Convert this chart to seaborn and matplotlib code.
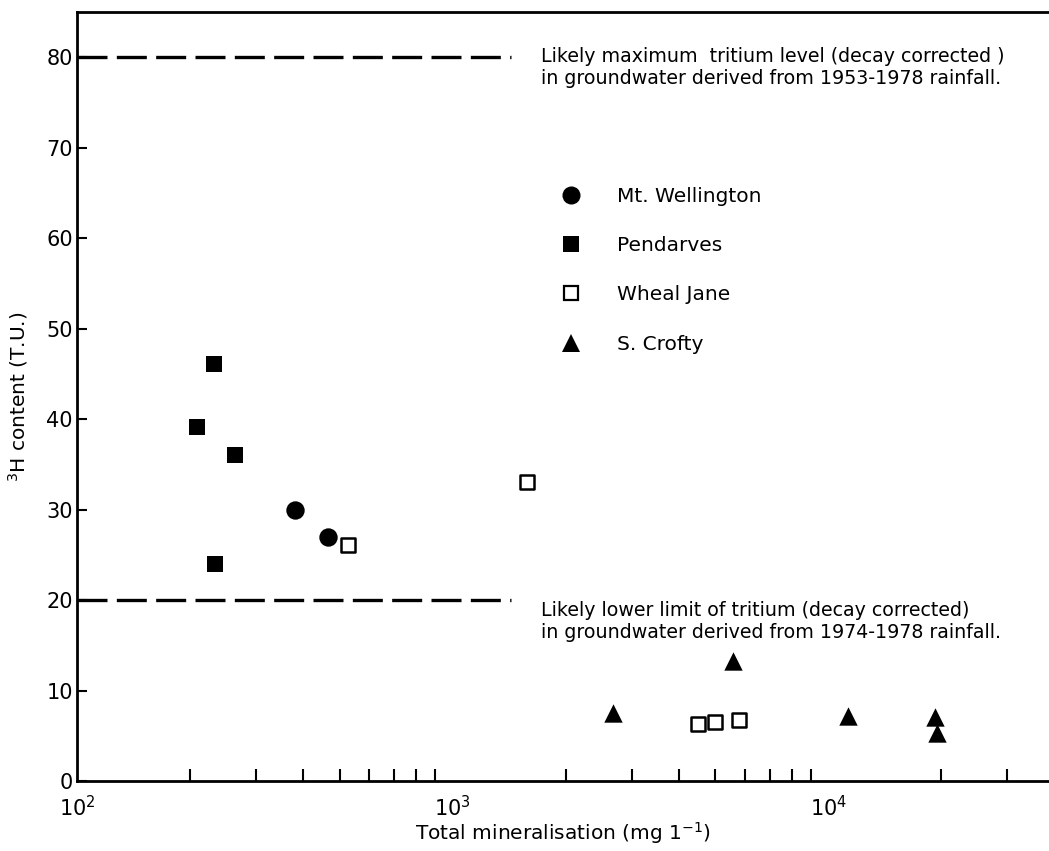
import numpy as np
import pandas as pd
import matplotlib
matplotlib.use("Agg")
import matplotlib.pyplot as plt
import seaborn as sns
from matplotlib.lines import Line2D
from matplotlib.ticker import LogLocator, NullFormatter, FixedLocator

# ---------------- data ----------------
sites = ["Mt. Wellington", "Pendarves", "Wheal Jane", "S. Crofty"]

wellington_x = [381, 467]
wellington_y = [30.0, 27.0]

pendarves_x = [209, 231, 264, 233]
pendarves_y = [39.1, 46.1, 36.0, 24.0]

whealjane_x = [528, 1580, 4500, 5000, 5800]
whealjane_y = [26.1, 33.0, 6.3, 6.5, 6.7]

crofty_x = [2670, 5580, 11300, 19200, 19500]
crofty_y = [7.5, 13.3, 7.2, 7.1, 5.3]

limit_levels = [80, 20]
limit_x = [100, 1430]
limit_texts = [
    "Likely maximum  tritium level (decay corrected )\nin groundwater derived from 1953-1978 rainfall.",
    "Likely lower limit of tritium (decay corrected)\nin groundwater derived from 1974-1978 rainfall.",
]
limit_text_y = [78.9, 17.6]

y_ticks = [0, 10, 20, 30, 40, 50, 60, 70, 80]
x_major = [100, 1000, 10000]
x_major_labels = [r"$10^2$", r"$10^3$", r"$10^4$"]

df = pd.concat([
    pd.DataFrame({"x": wellington_x, "y": wellington_y, "site": sites[0]}),
    pd.DataFrame({"x": pendarves_x, "y": pendarves_y, "site": sites[1]}),
    pd.DataFrame({"x": whealjane_x, "y": whealjane_y, "site": sites[2]}),
    pd.DataFrame({"x": crofty_x, "y": crofty_y, "site": sites[3]}),
], ignore_index=True)

# ---------------- style ----------------
sns.set_theme(style="white")
plt.rcParams["font.family"] = ["DejaVu Sans"]
plt.rcParams["mathtext.fontset"] = "dejavusans"
plt.rcParams["text.color"] = "black"
plt.rcParams["axes.labelcolor"] = "black"
plt.rcParams["xtick.color"] = "black"
plt.rcParams["ytick.color"] = "black"

fig = plt.figure(figsize=(10.49, 8.51), dpi=100)
ax = fig.add_axes([77 / 1049, 1 - 781 / 851, (1048 - 77) / 1049, (781 - 12) / 851])

styles = {
    "Mt. Wellington": dict(marker="o", s=175, color="black", edgecolor="black", linewidth=0),
    "Pendarves": dict(marker="s", s=135, color="black", edgecolor="black", linewidth=0),
    "Wheal Jane": dict(marker="s", s=105, color="white", edgecolor="black", linewidth=1.8),
    "S. Crofty": dict(marker="^", s=175, color="black", edgecolor="black", linewidth=0),
}

for site in sites:
    sub = df[df["site"] == site]
    sns.scatterplot(data=sub, x="x", y="y", ax=ax, legend=False, zorder=3, **styles[site])

# dashed limit lines
for lvl in limit_levels:
    ax.plot(limit_x, [lvl, lvl], color="black", lw=2.4, dashes=(9.0, 2.8), zorder=2)

for txt, ty in zip(limit_texts, limit_text_y):
    ax.text(1720, ty, txt, fontsize=13.7, va="center", ha="left", linespacing=1.2,
            color="black")

ax.set_xscale("log")
ax.set_xlim(100, 38500)
ax.set_ylim(0, 85)

ax.xaxis.set_major_locator(FixedLocator(x_major))
ax.set_xticks(x_major)
ax.set_xticklabels(x_major_labels, fontsize=15)
ax.xaxis.set_minor_locator(LogLocator(base=10, subs=np.arange(2, 10)))
ax.xaxis.set_minor_formatter(NullFormatter())
ax.set_yticks(y_ticks)
ax.set_yticklabels([str(v) for v in y_ticks], fontsize=15)

ax.tick_params(axis="both", which="both", direction="in", color="black", width=1.5)
ax.tick_params(axis="x", which="major", length=0, pad=10)
ax.tick_params(axis="x", which="minor", length=9, bottom=True)
ax.tick_params(axis="y", which="major", length=7, pad=3, left=True)

for side in ["left", "bottom", "top"]:
    ax.spines[side].set_visible(True)
    ax.spines[side].set_color("black")
    ax.spines[side].set_linewidth(2.0)
ax.spines["right"].set_visible(False)

ax.set_xlabel("Total mineralisation (mg 1$^{-1}$)", fontsize=14.5, labelpad=0)
ax.set_ylabel(r"$^{3}$H content (T.U.)", fontsize=14.5, labelpad=12)

# legend
handles = [
    Line2D([], [], ls="none", marker="o", markersize=13, color="black", markeredgewidth=0),
    Line2D([], [], ls="none", marker="s", markersize=11, color="black", markeredgewidth=0),
    Line2D([], [], ls="none", marker="s", markersize=10, markerfacecolor="white",
           markeredgecolor="black", markeredgewidth=1.6),
    Line2D([], [], ls="none", marker="^", markersize=13, color="black", markeredgewidth=0),
]
leg = ax.legend(handles, sites, loc="upper left", bbox_to_anchor=(0.49, 0.783),
                frameon=False, fontsize=14.5, labelspacing=1.5, handletextpad=1.8,
                handlelength=1.0, borderaxespad=0)

fig.savefig("out.png", dpi=100, facecolor="white")
